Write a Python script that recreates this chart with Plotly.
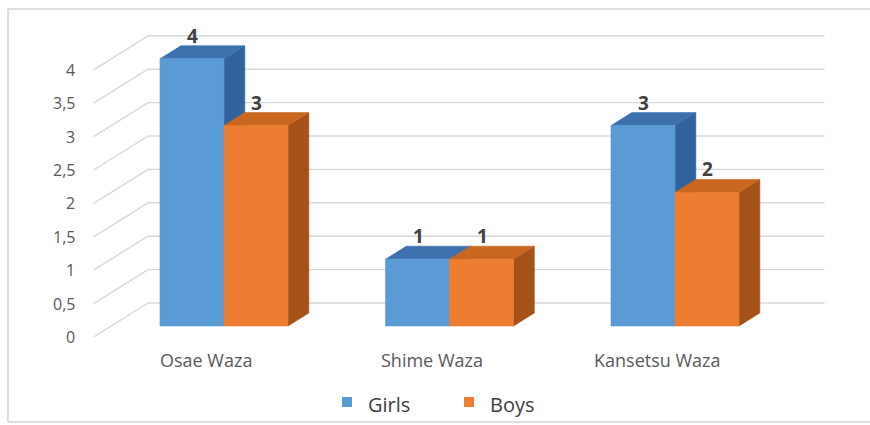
import plotly.graph_objects as go

# ---- data -----------------------------------------------------------------
categories = ["Osae Waza", "Shime Waza", "Kansetsu Waza"]
girls = [4, 1, 3]
boys = [3, 1, 2]
series_names = ["Girls", "Boys"]
y_ticks = [0, 0.5, 1, 1.5, 2, 2.5, 3, 3.5, 4]
y_tick_labels = ["0", "0,5", "1", "1,5", "2", "2,5", "3", "3,5", "4"]

# ---- styling / geometry ---------------------------------------------------
W, H = 870, 425
PX_X = 225.5          # pixels per category step
PX_Y = 66.8           # pixels per value unit
X0_PX, Y0_PX = 224, 326
SLANT = 1.6           # horizontal shift per vertical depth pixel
BAR_W = 64 / PX_X     # bar width in category units
BAR_DEPTH = 13        # bar depth (vertical pixels)
WALL_Z = 23           # back wall depth
FLOOR_Z = -11         # front edge of the side wall
GRID = "#D9D9D9"
TEXT = "#404040"
TICK = "#595959"
FONT = "Open Sans"

COLORS = {
    "Girls": ("#5B9BD5", "#3D71AE", "#31629B"),   # front, top, side
    "Boys": ("#ED7D31", "#C9661F", "#A4521A"),
}
VALUES = {"Girls": girls, "Boys": boys}


def proj(x, v, z):
    """Oblique projection of (category x, value v, depth z) into axis units."""
    return x + z * SLANT / PX_X, v + z / PX_Y


def poly(points, color):
    xs, ys = zip(*[proj(*p) for p in points])
    return go.Scatter(
        x=list(xs) + [xs[0]], y=list(ys) + [ys[0]],
        mode="lines", fill="toself", fillcolor=color,
        line=dict(color=color, width=0.6),
        hoverinfo="skip", showlegend=False,
    )


fig = go.Figure()

# walls: horizontal grid on the back wall, slanted lines on the side wall
gx, gy = [], []
n = len(categories)
for t in y_ticks:
    for a, b in [((-0.5, t, FLOOR_Z), (-0.5, t, WALL_Z)),
                 ((-0.5, t, WALL_Z), (n - 0.5, t, WALL_Z))]:
        x1, y1 = proj(*a)
        x2, y2 = proj(*b)
        gx += [x1, x2, None]
        gy += [y1, y2, None]
fig.add_trace(go.Scatter(x=gx, y=gy, mode="lines",
                         line=dict(color=GRID, width=1.4),
                         hoverinfo="skip", showlegend=False))

# 3D columns
for i, cat in enumerate(categories):
    for s, name in enumerate(series_names):
        v = VALUES[name][i]
        front, top, side = COLORS[name]
        xl = i - BAR_W + s * BAR_W
        xr = xl + BAR_W
        D = BAR_DEPTH
        fig.add_trace(poly([(xr, 0, 0), (xr, 0, D), (xr, v, D), (xr, v, 0)], side))
        fig.add_trace(poly([(xl, v, 0), (xr, v, 0), (xr, v, D), (xl, v, D)], top))
        fig.add_trace(poly([(xl, 0, 0), (xr, 0, 0), (xr, v, 0), (xl, v, 0)], front))
        lx, ly = proj((xl + xr) / 2, v, D)
        fig.add_annotation(x=lx, y=ly, text=f"<b>{v}</b>", showarrow=False,
                           xanchor="center", yanchor="bottom", xshift=-20, yshift=-5,
                           font=dict(family=FONT, size=19, color=TEXT))

# value axis labels
for t, lab in zip(y_ticks, y_tick_labels):
    x, y = proj(-0.5, t, FLOOR_Z)
    fig.add_annotation(x=x, y=y, text=lab, showarrow=False, xanchor="right",
                       yanchor="middle", xshift=-17,
                       font=dict(family=FONT, size=16, color=TICK))

# category labels
for i, cat in enumerate(categories):
    fig.add_annotation(x=i, y=0, text=cat, showarrow=False, xanchor="center",
                       yanchor="middle", xshift=-18, yshift=-34,
                       font=dict(family=FONT, size=18, color=TICK))

# legend
legend_pos = {"Girls": 342, "Boys": 464}
shapes = []
for name in series_names:
    x0 = legend_pos[name]
    shapes.append(dict(type="rect", xref="paper", yref="paper",
                       x0=x0 / W, x1=(x0 + 10) / W,
                       y0=1 - 407 / H, y1=1 - 397 / H,
                       fillcolor=COLORS[name][0], line=dict(width=0)))
    fig.add_annotation(xref="paper", yref="paper", x=(x0 + 24) / W,
                       y=1 - 404 / H, text=name, showarrow=False,
                       xanchor="left", yanchor="middle",
                       font=dict(family=FONT, size=20, color=TEXT))

# chart border
for (x0, y0, x1, y1) in [(8, 9, 870, 9), (8, 9, 8, 422), (8, 422, 870, 422)]:
    shapes.append(dict(type="line", xref="paper", yref="paper",
                       x0=x0 / W, x1=x1 / W, y0=1 - y0 / H, y1=1 - y1 / H,
                       line=dict(color="#D4D4D4", width=1.5)))

fig.update_layout(
    width=W, height=H,
    margin=dict(l=0, r=0, t=0, b=0, pad=0),
    paper_bgcolor="white", plot_bgcolor="white",
    showlegend=False, shapes=shapes,
    xaxis=dict(range=[-X0_PX / PX_X, (W - X0_PX) / PX_X], visible=False,
               fixedrange=True),
    yaxis=dict(range=[(Y0_PX - H) / PX_Y, Y0_PX / PX_Y], visible=False,
               fixedrange=True),
)

fig.write_html("out.html")
